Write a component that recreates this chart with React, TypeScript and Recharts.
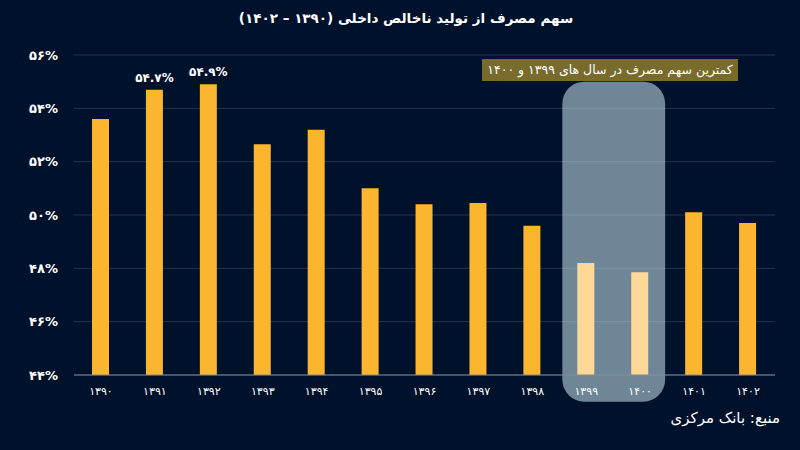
import React from "react";
import { BarChart, Bar, XAxis, YAxis, CartesianGrid, ReferenceArea, LabelList, Cell } from "recharts";

const years = ["۱۳۹۰", "۱۳۹۱", "۱۳۹۲", "۱۳۹۳", "۱۳۹۴", "۱۳۹۵", "۱۳۹۶", "۱۳۹۷", "۱۳۹۸", "۱۳۹۹", "۱۴۰۰", "۱۴۰۱", "۱۴۰۲"];
const shares = [53.6, 54.7, 54.9, 52.65, 53.2, 51.0, 50.4, 50.45, 49.6, 48.2, 47.85, 50.1, 49.7];
const valueLabels = ["", "۵۴.۷%", "۵۴.۹%", "", "", "", "", "", "", "", "", "", ""];
const highlighted = [false, false, false, false, false, false, false, false, false, true, true, false, false];
const yTicks = [44, 46, 48, 50, 52, 54, 56];
const highlightYears = ["۱۳۹۹", "۱۴۰۰"];
const highlightRange = [43.0, 55.0];

const title = "سهم مصرف از تولید ناخالص داخلی (۱۳۹۰ – ۱۴۰۲)";
const note = "کمترین سهم مصرف در سال های ۱۳۹۹ و ۱۴۰۰";
const source = "منبع: بانک مرکزی";

const data = years.map((y, i) => ({ year: y, share: shares[i], label: valueLabels[i], hl: highlighted[i] }));

const toFa = (n: number) => String(n).replace(/\d/g, (d) => "۰۱۲۳۴۵۶۷۸۹"[Number(d)]);

const FONT = "'DejaVu Sans', 'Noto Sans', sans-serif";
const BG = "#00112b";

const HighlightShape = (props: any) => {
  const { x, y, width, height } = props;
  return <rect x={x + 3} y={y} width={width - 5} height={height} rx={22} ry={22} fill="rgb(183,214,222)" fillOpacity={0.6} />;
};

export default function App() {
  return (
    <div style={{ position: "absolute", left: 0, top: 0, width: 800, height: 450, background: BG, fontFamily: FONT, overflow: "hidden" }}>
      <div style={{ position: "absolute", left: 0, top: 10, width: 812, textAlign: "center", color: "#ffffff", fontWeight: "bold", fontSize: 13.5, direction: "rtl" }}>
        {title}
      </div>
      <BarChart width={800} height={450} data={data} margin={{ top: 55, right: 25, bottom: 45, left: 0 }}>
        <CartesianGrid vertical={false} stroke="#24344f" strokeWidth={1} />
        <ReferenceArea x1={highlightYears[0]} x2={highlightYears[1]} y1={highlightRange[0]} y2={highlightRange[1]} ifOverflow="visible" shape={HighlightShape} />
        <XAxis
          dataKey="year"
          tickLine={false}
          tickSize={0}
          tickMargin={12}
          axisLine={{ stroke: "#7d8799", strokeWidth: 1 }}
          tick={{ fill: "#ffffff", fontSize: 11, fontFamily: FONT }}
          interval={0}
          height={30}
        />
        <YAxis
          domain={[44, 56]}
          ticks={yTicks}
          tickFormatter={(v: number) => toFa(v) + "%"}
          tickLine={false}
          axisLine={false}
          tickSize={0}
          tickMargin={16}
          width={74}
          tick={{ fill: "#ffffff", fontSize: 13, fontWeight: "bold", fontFamily: FONT }}
          allowDataOverflow
        />
        <Bar dataKey="share" barSize={17} isAnimationActive={false}>
          {data.map((d, i) => (
            <Cell key={i} fill={d.hl ? "#fdd897" : "#fbb52f"} />
          ))}
          <LabelList dataKey="label" position="top" offset={8} fill="#ffffff" fontSize={12} fontWeight="bold" fontFamily={FONT} />
        </Bar>
      </BarChart>
      <div style={{ position: "absolute", left: 482, top: 59, width: 256, height: 22, background: "#786b2c", color: "#ffffff", fontSize: 12.5, lineHeight: "22px", textAlign: "center", direction: "rtl" }}>
        {note}
      </div>
      <div style={{ position: "absolute", right: 20, top: 409, color: "#ffffff", fontSize: 15, direction: "rtl" }}>
        {source}
      </div>
    </div>
  );
}
